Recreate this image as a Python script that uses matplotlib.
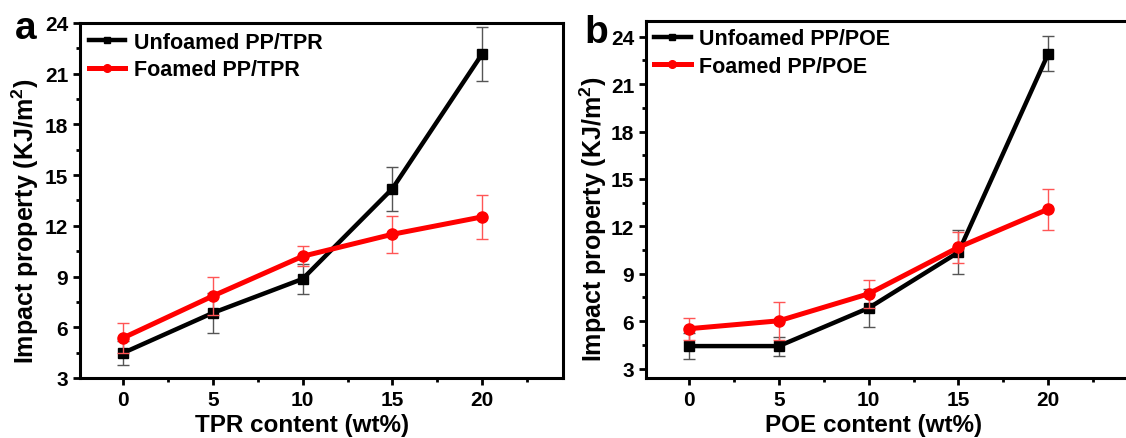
import matplotlib
matplotlib.use("Agg")
import matplotlib.pyplot as plt
from matplotlib.lines import Line2D
from matplotlib.ticker import MultipleLocator

plt.rcParams['font.family'] = ['Liberation Sans', 'DejaVu Sans']
plt.rcParams['font.weight'] = 'bold'
plt.rcParams['axes.labelweight'] = 'bold'
plt.rcParams['mathtext.fontset'] = 'custom'
plt.rcParams['mathtext.rm'] = 'Liberation Sans:bold'
plt.rcParams['mathtext.default'] = 'rm'

# Rubber content (wt%)
content = [0, 5, 10, 15, 20]

# Panel a: PP/TPR
tpr_unfoamed = [4.48, 6.85, 8.86, 14.2, 22.17]
tpr_unfoamed_err = [0.7, 1.2, 0.9, 1.3, 1.6]
tpr_foamed = [5.37, 7.85, 10.2, 11.5, 12.53]
tpr_foamed_err = [0.9, 1.1, 0.6, 1.1, 1.3]

# Panel b: PP/POE
poe_unfoamed = [4.42, 4.42, 6.83, 10.36, 22.93]
poe_unfoamed_err = [0.8, 0.6, 1.2, 1.4, 1.1]
poe_foamed = [5.52, 6.02, 7.73, 10.67, 13.09]
poe_foamed_err = [0.7, 1.2, 0.9, 1.0, 1.3]

fig = plt.figure(figsize=(11.26, 4.39), dpi=100)
ax_a = fig.add_axes([0.0710, 0.1367, 0.4290, 0.8087])
ax_b = fig.add_axes([0.5737, 0.1367, 0.4290, 0.8132])


def draw_panel(ax, unf, unf_err, foa, foa_err, name, ylim,
               ylabel_xy, xlabel_x, legend_anchor):
    ax.errorbar(content, unf, yerr=unf_err, color='black', lw=3.2,
                marker='s', ms=7, ecolor='#555555', elinewidth=1,
                capsize=4, capthick=1, zorder=3)
    ax.errorbar(content, foa, yerr=foa_err, color='#ff0000', lw=3.6,
                marker='o', ms=8, ecolor='#ff5555', elinewidth=1,
                capsize=4, capthick=1, zorder=4)
    ax.set_xlim(-2.4, 24.5)
    ax.set_ylim(*ylim)
    ax.xaxis.set_major_locator(MultipleLocator(5))
    ax.xaxis.set_minor_locator(MultipleLocator(2.5))
    ax.yaxis.set_major_locator(MultipleLocator(3))
    ax.yaxis.set_minor_locator(MultipleLocator(1.5))
    ax.tick_params(which='both', direction='out', width=2,
                   top=False, right=False, labelsize=15)
    ax.tick_params(which='major', length=5)
    ax.tick_params(which='minor', length=3)
    for lbl in ax.get_xticklabels() + ax.get_yticklabels():
        lbl.set_fontweight('bold')
    for sp in ax.spines.values():
        sp.set_linewidth(2.2)
    ax.set_xlabel(f'{name} content (wt%)', fontsize=17.5, fontweight='bold')
    ax.xaxis.set_label_coords(xlabel_x, -0.098)
    ax.set_ylabel(r'Impact property (KJ/m$^{2}$)', fontsize=18,
                  fontweight='bold')
    ax.yaxis.set_label_coords(*ylabel_xy)
    handles = [
        Line2D([], [], color='black', lw=3.2, marker='s', ms=4.5),
        Line2D([], [], color='#ff0000', lw=3.6, marker='o', ms=5.5),
    ]
    ax.legend(handles, [f'Unfoamed PP/{name}', f'Foamed PP/{name}'],
              loc='upper left', bbox_to_anchor=legend_anchor, frameon=False,
              prop={'size': 15.5, 'weight': 'bold'},
              handlelength=1.7, handletextpad=0.4, labelspacing=0.3,
              borderaxespad=0.0, borderpad=0.0)


draw_panel(ax_a, tpr_unfoamed, tpr_unfoamed_err, tpr_foamed, tpr_foamed_err,
           'TPR', (3, 24), (-0.08, 0.445), 0.46, (0.018, 0.975))
draw_panel(ax_b, poe_unfoamed, poe_unfoamed_err, poe_foamed, poe_foamed_err,
           'POE', (2.4, 25), (-0.076, 0.447), 0.472, (0.017, 0.98))

fig.text(0.013, 0.935, 'a', fontsize=28, fontweight='bold', va='center')
fig.text(0.519, 0.925, 'b', fontsize=28, fontweight='bold', va='center')

fig.savefig('out.png', dpi=100)
